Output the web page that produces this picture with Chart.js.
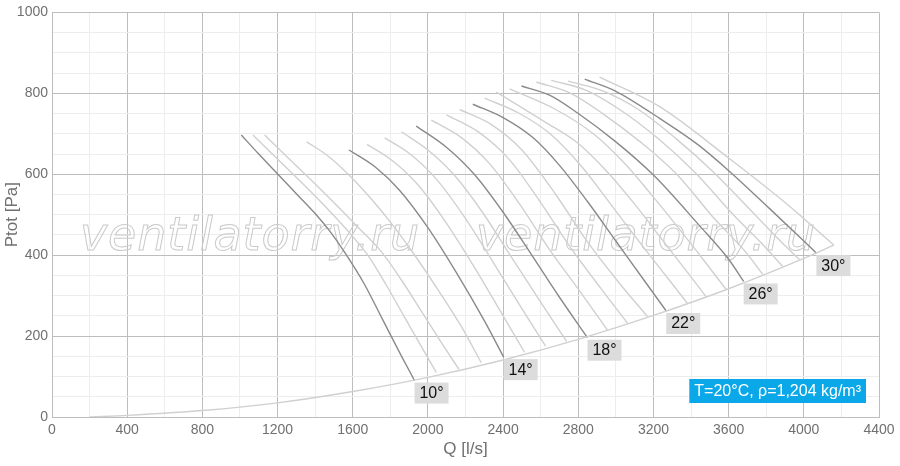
<!DOCTYPE html>
<html>
<head>
<meta charset="utf-8">
<script src="https://cdn.jsdelivr.net/npm/chart.js@4.4.1/dist/chart.umd.min.js"></script>
<style>
  html, body { margin: 0; padding: 0; background: #fff; }
</style>
</head>
<body>
<canvas id="fanChart" width="900" height="466"></canvas>
<script>
// blade angles, one curve per degree; the dark ones get a label
const angles = [10, 11, 12, 13, 14, 15, 16, 17, 18, 19, 20, 21, 22, 23, 24, 25, 26, 27, 28, 29, 30]
const labeledAngles = [10, 14, 18, 22, 26, 30]

// [Q l/s, Ptot Pa]
const c10 = [[1007,697],[1100,650],[1202,600],[1300,552],[1400,503],[1480,458],[1560,405],[1660,330],[1760,240],[1860,150],[1929,90]]
const c11 = [[1069,697],[1190,642],[1320,583],[1450,522],[1570,462],[1680,400],[1780,325],[1880,243],[1970,170],[2045,110]]
const c12 = [[1131,697],[1250,643],[1380,585],[1510,525],[1630,468],[1750,410],[1860,338],[1970,258],[2070,185],[2165,118]]
const c13 = [[1355,680],[1460,648],[1580,598],[1700,538],[1820,470],[1940,393],[2060,310],[2180,222],[2284,134]]
const c14 = [[1580,660],[1720,618],[1850,560],[2000,468],[2150,358],[2300,238],[2403,148]]
const c15 = [[1676,674],[1815,632],[1950,572],[2100,478],[2250,368],[2400,250],[2514,160]]
const c16 = [[1770,690],[1905,650],[2045,588],[2195,494],[2345,384],[2500,268],[2626,175]]
const c17 = [[1859,705],[2000,660],[2140,598],[2290,506],[2440,398],[2600,284],[2738,187]]
const c18 = [[1938,719],[2100,666],[2250,598],[2400,506],[2550,402],[2700,296],[2849,196]]
const c19 = [[2018,734],[2180,690],[2330,625],[2490,525],[2650,412],[2810,310],[2956,214]]
const c20 = [[2098,747],[2270,704],[2430,638],[2600,530],[2760,418],[2920,318],[3062,232]]
const c21 = [[2169,760],[2340,722],[2500,660],[2680,550],[2850,432],[3020,330],[3169,248]]
const c22 = [[2239,773],[2400,740],[2560,690],[2700,622],[2850,532],[3000,435],[3150,338],[3268,262]]
const c23 = [[2302,788],[2480,752],[2650,700],[2820,618],[2990,515],[3160,412],[3290,335],[3382,280]]
const c24 = [[2364,803],[2620,730],[2800,676],[2950,608],[3100,526],[3250,436],[3380,358],[3481,297]]
const c25 = [[2435,811],[2680,760],[2880,700],[3040,630],[3190,549],[3340,463],[3480,380],[3587,315]]
const c26 = [[2498,818],[2650,795],[2800,750],[3000,680],[3200,598],[3445,473],[3600,390],[3680,335]]
const c27 = [[2577,828],[2760,800],[2930,750],[3130,680],[3330,597],[3515,495],[3690,408],[3782,352]]
const c28 = [[2656,832],[2840,808],[3020,760],[3220,690],[3420,605],[3625,500],[3790,422],[3888,372]]
const c29 = [[2745,830],[2930,806],[3120,760],[3320,688],[3520,605],[3740,500],[3890,428],[3977,389]]
const c30 = [[2834,835],[3000,805],[3233,738],[3440,672],[3605,607],[3818,515],[4000,435],[4067,405]]
const outerCurve = [[2913,840],[3233,767],[3600,640],[3900,530],[4160,425]]
const systemCurve = [[200,0],[400,4],[800,16],[1200,35],[1600,63],[2000,98],[2400,141],[2800,192],[3200,251],[3600,317],[4000,392],[4160,425]]

const fanCurves = [c10,c11,c12,c13,c14,c15,c16,c17,c18,c19,c20,c21,c22,c23,c24,c25,c26,c27,c28,c29,c30]

const xMax = 4400
const yMax = 1000
const infoText = 'T=20°C, ρ=1,204 kg/m³'
const watermark = 'ventilatorry.ru'

const lightLine = '#d0d0d0'
const darkLine = '#8a8a8a'
const axisFont = '"Liberation Sans", Arial, sans-serif'

function toXY(pts) {
  return pts.map(p => ({ x: p[0], y: p[1] }))
}

function lineSet(pts, color) {
  return {
    data: toXY(pts),
    borderColor: color,
    borderWidth: 1.4,
    pointRadius: 0,
    fill: false,
    cubicInterpolationMode: 'monotone'
  }
}

const datasets = []
datasets.push(lineSet(systemCurve, lightLine))
datasets.push(lineSet(outerCurve, lightLine))
fanCurves.forEach((pts, i) => {
  if (!labeledAngles.includes(angles[i])) datasets.push(lineSet(pts, lightLine))
})
fanCurves.forEach((pts, i) => {
  if (labeledAngles.includes(angles[i])) datasets.push(lineSet(pts, darkLine))
})

const overlay = {
  id: 'overlay',
  beforeDatasetsDraw(chart) {
    const ctx = chart.ctx
    ctx.save()
    ctx.font = 'italic 46px "DejaVu Sans", sans-serif'
    ctx.strokeStyle = '#cacaca'
    ctx.lineWidth = 1
    ctx.textBaseline = 'alphabetic'
    const w0 = ctx.measureText(watermark).width
    if ('letterSpacing' in ctx) ctx.letterSpacing = ((340 - w0) / watermark.length).toFixed(2) + 'px'
    ctx.strokeText(watermark, 80, 250)
    ctx.strokeText(watermark, 476, 250)
    ctx.restore()
  },
  afterDatasetsDraw(chart) {
    const ctx = chart.ctx
    const xs = chart.scales.x
    const ys = chart.scales.y
    ctx.save()
    ctx.font = '16px ' + axisFont
    ctx.textBaseline = 'middle'
    ctx.textAlign = 'center'
    fanCurves.forEach((pts, i) => {
      if (!labeledAngles.includes(angles[i])) return
      const last = pts[pts.length - 1]
      const px = xs.getPixelForValue(last[0])
      const py = ys.getPixelForValue(last[1]) + 2
      ctx.fillStyle = '#dcdcdc'
      ctx.fillRect(px, py, 34, 21)
      ctx.fillStyle = '#111'
      ctx.fillText(angles[i] + '°', px + 17, py + 11)
    })
    // info box, bottom right of the plot
    const a = chart.chartArea
    ctx.font = '16px ' + axisFont
    const tw = ctx.measureText(infoText).width
    const bw = tw + 10
    const bx = a.right - 13 - bw
    const by = a.bottom - 38
    ctx.fillStyle = '#0aa8e8'
    ctx.fillRect(bx, by, bw, 24)
    ctx.fillStyle = '#fff'
    ctx.fillText(infoText, bx + bw / 2, by + 12.5)
    ctx.restore()
  }
}

const fanChart = new Chart(document.getElementById('fanChart'), {
  type: 'line',
  data: { datasets: datasets },
  options: {
    responsive: false,
    animation: false,
    events: [],
    layout: { padding: { top: 10, right: 21, left: 0, bottom: 0 } },
    plugins: {
      legend: { display: false },
      tooltip: { enabled: false }
    },
    scales: {
      x: {
        type: 'linear',
        min: 0,
        max: xMax,
        afterFit(scale) { scale.height = 49 },
        ticks: {
          stepSize: 200,
          autoSkip: false,
          maxRotation: 0,
          padding: 5,
          color: '#707070',
          font: { family: axisFont, size: 14 },
          callback: v => (v % 400 === 0 ? v : '')
        },
        grid: {
          drawTicks: false,
          color: c => (c.tick && c.tick.value % 400 === 0 ? '#bdbdbd' : '#ededed')
        },
        border: { color: '#bdbdbd' },
        title: {
          display: true,
          text: 'Q [l/s]',
          color: '#707070',
          font: { family: axisFont, size: 17 },
          padding: { top: 0, bottom: 6 }
        }
      },
      y: {
        min: 0,
        max: yMax,
        afterFit(scale) { scale.width = 52 },
        ticks: {
          stepSize: 50,
          autoSkip: false,
          padding: 4,
          color: '#707070',
          font: { family: axisFont, size: 14 },
          callback: v => (v % 200 === 0 ? v : '')
        },
        grid: {
          drawTicks: false,
          color: c => (c.tick && c.tick.value % 200 === 0 ? '#bdbdbd' : '#ededed')
        },
        border: { color: '#bdbdbd' },
        title: {
          display: true,
          text: 'Ptot [Pa]',
          color: '#707070',
          font: { family: axisFont, size: 17 },
          padding: { top: 2, bottom: 0 }
        }
      }
    }
  },
  plugins: [overlay]
})
</script>
</body>
</html>
